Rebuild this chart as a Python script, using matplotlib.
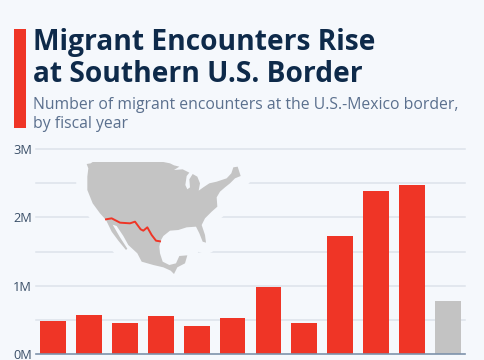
import matplotlib
matplotlib.use("Agg")
import matplotlib.pyplot as plt
from matplotlib.patches import Polygon, Rectangle
from matplotlib.transforms import Affine2D

years = ["2012", "2013", "2014", "2015", "2016", "2017", "2018", "2019", "2020", "2021", "2022", "2023"]
values = [0.49, 0.57, 0.45, 0.55, 0.41, 0.52, 0.98, 0.46, 1.73, 2.38, 2.48, 0.78]
colors = ["#EF3526"] * 11 + ["#C3C3C3"]
yticks = [0, 1, 2, 3]
ytick_labels = ["0M", "1M", "2M", "3M"]
minor_ticks = [0.5, 1.5, 2.5]

# Decorative map outline, in zoomed reference pixels
map_outline = [(50,42),(62,40),(68,36),(280,36),(300,40),(312,46),(328,50),(312,60),(338,58),(358,68),(350,78),(346,105),(352,118),(360,112),(358,88),(368,72),(382,80),(390,100),(386,122),(400,112),(418,100),(440,95),(470,85),(484,70),(490,52),(503,50),(512,78),(495,85),(480,100),(465,112),(450,125),(440,142),(442,170),(425,185),(405,205),(395,225),(405,255),(408,278),(398,275),(388,250),(378,230),(350,232),(325,240),(300,242),(280,258),(272,272),(268,290),(270,310),(278,335),(298,345),(318,340),(328,318),(352,316),(345,340),(322,352),(312,372),(302,362),(280,352),(250,345),(215,335),(202,310),(175,285),(160,258),(140,228),(128,224),(150,262),(172,296),(168,300),(145,272),(125,245),(108,210),(90,190),(68,160),(52,120),(52,80),(55,55)]
border_line = [(108,208),(125,205),(150,218),(180,220),(195,215),(212,238),(220,242),(232,232),(245,255),(258,272),(270,274)]

BG = "#F5F8FC"
W, H = 485, 360
fig = plt.figure(figsize=(W/100, H/100), dpi=100, facecolor=BG)
ax = fig.add_axes([36/W, (H-354)/H, (465-36)/W, (354-149)/H], facecolor=BG)

x = list(range(len(values)))
ax.bar(x, values, width=0.72, color=colors, zorder=3)
ax.set_xlim(-0.47, 11.47)
ax.set_ylim(0, 3)
ax.set_xticks([])
ax.set_yticks(yticks, ytick_labels)
ax.tick_params(axis="y", length=0, pad=3, labelsize=9.2, labelcolor="#3A4F68")
for t in ax.get_yticklabels():
    t.set_family("Open Sans")
for v in yticks[1:] + minor_ticks:
    ax.axhline(v, color="#DDE3EA", lw=1.1, zorder=1, clip_on=False)
for s in ax.spines.values():
    s.set_visible(False)
ax.axhline(0, color="#7D92AB", lw=1.2, zorder=4, clip_on=False)

px = Affine2D().scale(1/3, 1/3).translate(70, 150).scale(1, -1).translate(0, H)
ax.add_patch(Polygon(map_outline, closed=True, transform=px, fc=BG, ec=BG, lw=16, joinstyle="round", zorder=2, clip_on=False))
ax.add_patch(Polygon(map_outline, closed=True, transform=px, fc="#C4C4C4", ec="none", zorder=2.1, clip_on=False))
xs, ys = zip(*border_line)
ax.plot(xs, ys, transform=px, color="#EF3526", lw=1.4, zorder=2.2, clip_on=False, solid_joinstyle="round")

fig.add_artist(Rectangle((14.5/W, (H-128.5)/H), 11.5/W, 99.5/H, transform=fig.transFigure, fc="#EF3526", ec="none"))
fig.text(33/W, (H-50)/H, "Migrant Encounters Rise", family="Open Sans", weight="bold", size=20.25, color="#0E2A4A", va="baseline")
fig.text(33/W, (H-82)/H, "at Southern U.S. Border", family="Open Sans", weight="bold", size=20.25, color="#0E2A4A", va="baseline")
fig.text(33/W, (H-109)/H, "Number of migrant encounters at the U.S.-Mexico border,", family="Open Sans", size=11.35, color="#5B708E", va="baseline")
fig.text(33/W, (H-128)/H, "by fiscal year", family="Open Sans", size=11.35, color="#5B708E", va="baseline")

fig.savefig("out.png", dpi=100, facecolor=BG)
